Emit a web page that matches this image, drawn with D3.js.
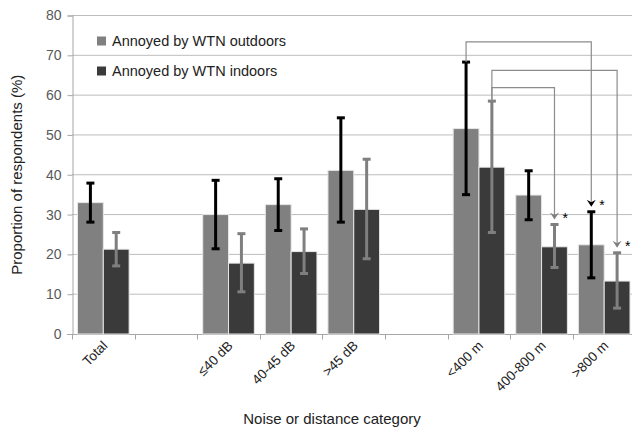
<!DOCTYPE html>
<html>
<head>
<meta charset="utf-8">
<script src="https://cdn.jsdelivr.net/npm/d3@7"></script>
<style>
  body { margin: 0; background: #fff; }
  svg { font-family: "Liberation Sans", Arial, sans-serif; }
</style>
</head>
<body>
<svg id="chart" width="632" height="434"></svg>
<script>
// categories (blank entries are spacer slots)
const categories = ["Total", "", "≤40 dB", "40-45 dB", ">45 dB", "", "<400 m", "400-800 m", ">800 m"];
const seriesNames = ["Annoyed by WTN outdoors", "Annoyed by WTN indoors"];

const outdoors = [33.0, null, 30.0, 32.5, 41.1, null, 51.6, 34.9, 22.4];
const outdoorsLow = [28.1, null, 21.4, 26.0, 28.1, null, 35.0, 28.7, 14.1];
const outdoorsHigh = [37.9, null, 38.6, 39.0, 54.3, null, 68.3, 41.0, 30.7];

const indoors = [21.3, null, 17.8, 20.7, 31.3, null, 41.9, 21.9, 13.3];
const indoorsLow = [17.1, null, 10.6, 15.2, 18.9, null, 25.5, 16.7, 6.5];
const indoorsHigh = [25.5, null, 25.2, 26.4, 43.9, null, 58.5, 27.5, 20.4];

const yTicks = [0, 10, 20, 30, 40, 50, 60, 70, 80];

// significance brackets: from [category, series] to [category, series] at level
const bracketFrom = [[6, 0], [6, 1], [6, 1]];
const bracketTo = [[8, 0], [8, 1], [7, 1]];
const bracketLevel = [73.4, 66.2, 61.9];

const svg = d3.select("#chart");

const x0 = d3.scaleBand()
  .domain(d3.range(categories.length))
  .range([72, 635.5]);

const x1 = d3.scaleBand()
  .domain([0, 1])
  .range([5.5, x0.bandwidth() - 5.5]);

const y = d3.scaleLinear()
  .domain([0, 80])
  .range([334, 15.5]);

const colors = ["#808080", "#3a3a3a"];
const errColors = ["#000000", "#7f7f7f"];

// grid lines
svg.append("g")
  .selectAll("line")
  .data(yTicks.filter(d => d > 0))
  .enter()
  .append("line")
  .attr("x1", 72)
  .attr("x2", 632)
  .attr("y1", d => y(d))
  .attr("y2", d => y(d))
  .attr("stroke", "#bdbdbd")
  .attr("stroke-width", 1);

// y axis
const yAxis = svg.append("g")
  .attr("transform", "translate(72.5,0)")
  .call(d3.axisLeft(y).tickValues(yTicks).tickSize(5).tickPadding(6));
yAxis.select(".domain").attr("stroke", "#a6a6a6");
yAxis.selectAll(".tick line").attr("stroke", "#a6a6a6");
yAxis.selectAll("text")
  .attr("fill", "#595959")
  .style("font-size", "14px")
  .style("font-family", "Liberation Sans, Arial, sans-serif");

// x axis
const xAxisG = svg.append("g").attr("transform", "translate(0,334.5)");
xAxisG.append("line")
  .attr("x1", 67)
  .attr("x2", 632)
  .attr("stroke", "#a6a6a6");
xAxisG.selectAll(".xt")
  .data(d3.range(categories.length))
  .enter()
  .append("line")
  .attr("x1", d => Math.round(x0(d)) + 0.5)
  .attr("x2", d => Math.round(x0(d)) + 0.5)
  .attr("y1", 0)
  .attr("y2", 5)
  .attr("stroke", "#a6a6a6");
xAxisG.selectAll(".xl")
  .data(categories)
  .enter()
  .append("text")
  .attr("transform", (d, i) => "translate(" + (x0(i) + x0.bandwidth() / 2 + 5) + ",12) rotate(-45)")
  .attr("text-anchor", "end")
  .attr("fill", "#222")
  .style("font-size", "13.5px")
  .text(d => d);

// bars
const seriesVals = [outdoors, indoors];
const seriesLow = [outdoorsLow, indoorsLow];
const seriesHigh = [outdoorsHigh, indoorsHigh];

const barData = [];
categories.forEach((c, i) => {
  [0, 1].forEach(s => {
    if (seriesVals[s][i] != null) {
      barData.push({ cat: i, s: s, v: seriesVals[s][i], lo: seriesLow[s][i], hi: seriesHigh[s][i] });
    }
  });
});

svg.append("g")
  .selectAll("rect")
  .data(barData)
  .enter()
  .append("rect")
  .attr("x", d => x0(d.cat) + x1(d.s))
  .attr("width", x1.bandwidth())
  .attr("y", d => y(d.v))
  .attr("height", d => y(0) - y(d.v))
  .attr("fill", d => colors[d.s])
  .attr("stroke", "#e6e6e6")
  .attr("stroke-width", 1);

const cx = d => x0(d.cat) + x1(d.s) + x1.bandwidth() / 2;

// error bars
const err = svg.append("g")
  .selectAll("g")
  .data(barData)
  .enter()
  .append("g")
  .attr("stroke", d => errColors[d.s])
  .attr("stroke-width", 3);
err.append("line")
  .attr("x1", cx).attr("x2", cx)
  .attr("y1", d => y(d.hi)).attr("y2", d => y(d.lo));
err.append("line")
  .attr("x1", d => cx(d) - 4).attr("x2", d => cx(d) + 4)
  .attr("y1", d => y(d.hi)).attr("y2", d => y(d.hi));
err.append("line")
  .attr("x1", d => cx(d) - 4).attr("x2", d => cx(d) + 4)
  .attr("y1", d => y(d.lo)).attr("y2", d => y(d.lo));

// significance brackets
const brackets = bracketFrom.map((f, i) => {
  const t = bracketTo[i];
  return {
    fx: cx({ cat: f[0], s: f[1] }),
    fy: y(seriesHigh[f[1]][f[0]]),
    tx: cx({ cat: t[0], s: t[1] }),
    ty: y(seriesHigh[t[1]][t[0]]) - 5,
    ly: y(bracketLevel[i]),
    s: t[1]
  };
});

const br = svg.append("g");
br.selectAll("path.br")
  .data(brackets)
  .enter()
  .append("path")
  .attr("fill", "none")
  .attr("stroke", "#8c8c8c")
  .attr("stroke-width", 1.2)
  .attr("d", d => "M" + d.fx + "," + d.fy + "V" + d.ly + "H" + d.tx + "V" + (d.ty - 3));
br.selectAll("path.ar")
  .data(brackets)
  .enter()
  .append("path")
  .attr("fill", d => d.s == 0 ? "#000" : "#7f7f7f")
  .attr("d", d => "M" + (d.tx - 4.5) + "," + (d.ty - 7) + "L" + d.tx + "," + d.ty + "L" + (d.tx + 4.5) + "," + (d.ty - 7) + "L" + d.tx + "," + (d.ty - 4.5) + "Z");
br.selectAll("text")
  .data(brackets)
  .enter()
  .append("text")
  .attr("x", d => d.tx + 8)
  .attr("y", d => d.ty + 3.5)
  .attr("fill", "#000")
  .style("font-size", "14px")
  .text("*");

// legend
const legend = svg.append("g")
  .selectAll("g")
  .data(seriesNames)
  .enter()
  .append("g")
  .attr("transform", (d, i) => "translate(97," + (36.5 + i * 30) + ")");
legend.append("rect")
  .attr("width", 9)
  .attr("height", 9)
  .attr("fill", (d, i) => colors[i]);
legend.append("text")
  .attr("x", 15)
  .attr("y", 9)
  .attr("fill", "#222")
  .style("font-size", "14.5px")
  .text(d => d);

// axis titles
svg.append("text")
  .attr("transform", "translate(22," + ((15.5 + 334) / 2) + ") rotate(-90)")
  .attr("text-anchor", "middle")
  .attr("fill", "#222")
  .style("font-size", "15px")
  .text("Proportion of respondents (%)");

svg.append("text")
  .attr("x", 332)
  .attr("y", 424)
  .attr("text-anchor", "middle")
  .attr("fill", "#222")
  .style("font-size", "15px")
  .text("Noise or distance category");
</script>
</body>
</html>
